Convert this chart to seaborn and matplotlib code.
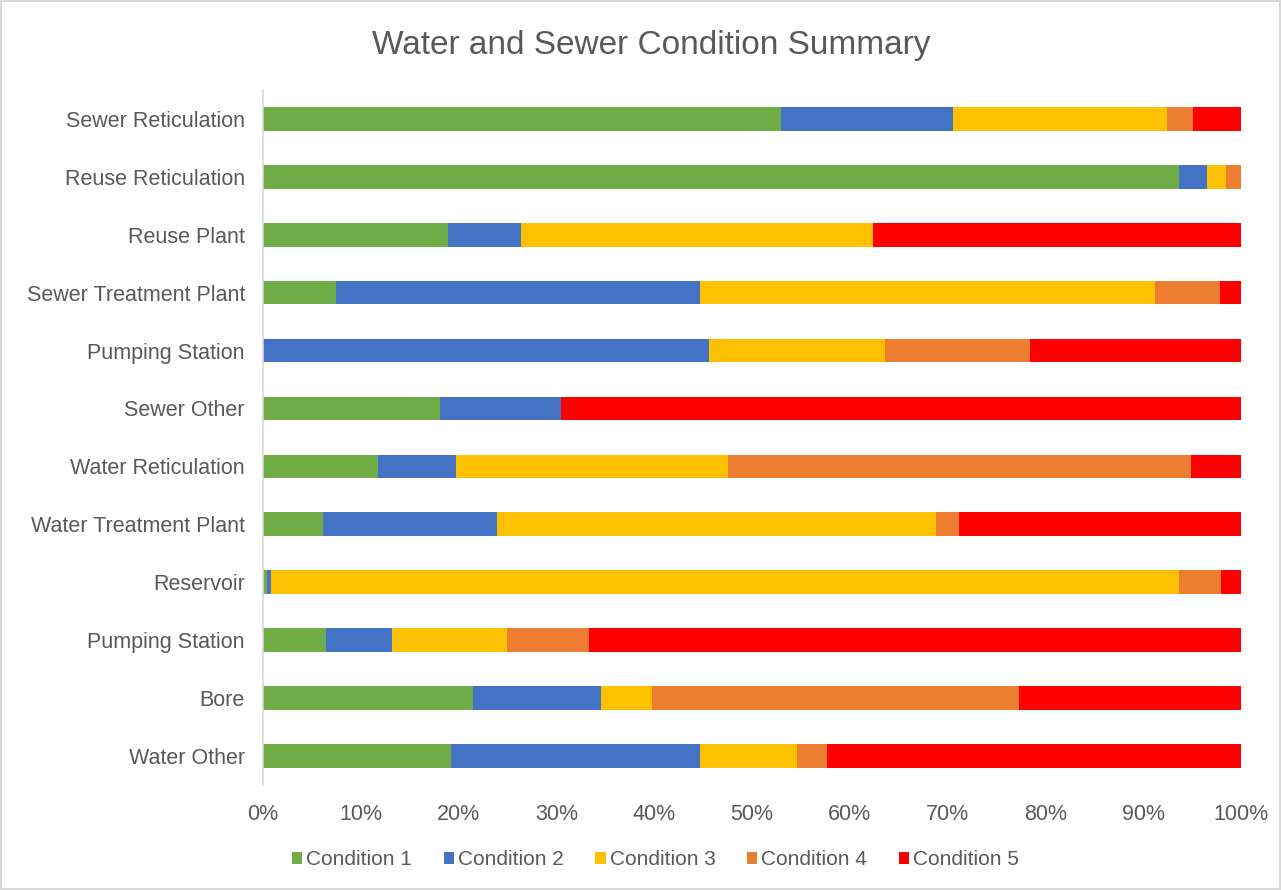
import matplotlib
matplotlib.use("Agg")
import matplotlib.pyplot as plt
import seaborn as sns
import pandas as pd
import numpy as np
from matplotlib.patches import Patch
from matplotlib.ticker import PercentFormatter

# Asset groups, top to bottom
categories = [
    "Sewer Reticulation", "Reuse Reticulation", "Reuse Plant",
    "Sewer Treatment Plant", "Pumping Station", "Sewer Other",
    "Water Reticulation", "Water Treatment Plant", "Reservoir",
    "Pumping Station ", "Bore", "Water Other",
]
tick_labels = [c.strip() for c in categories]

conditions = ["Condition 1", "Condition 2", "Condition 3", "Condition 4", "Condition 5"]

# Share of assets (%) in each condition rating
condition_1 = [53.0, 93.7, 18.9, 7.5, 0.0, 18.1, 11.8, 6.1, 0.4, 6.4, 21.5, 19.2]
condition_2 = [17.5, 2.8, 7.5, 37.2, 45.6, 12.4, 7.9, 17.8, 0.4, 6.8, 13.1, 25.5]
condition_3 = [21.9, 2.0, 36.0, 46.5, 18.0, 0.0, 27.8, 44.9, 92.9, 11.7, 5.2, 9.9]
condition_4 = [2.7, 1.5, 0.0, 6.6, 14.8, 0.0, 47.4, 2.4, 4.3, 8.4, 37.5, 3.1]
condition_5 = [4.9, 0.0, 37.6, 2.2, 21.6, 69.5, 5.1, 28.8, 2.0, 66.7, 22.7, 42.3]

colors = ["#70AD47", "#4472C4", "#FFC000", "#ED7D31", "#FF0000"]

values = np.array([condition_1, condition_2, condition_3, condition_4, condition_5])
shares = values / values.sum(axis=0) * 100
cumulative = np.cumsum(shares, axis=0)

df = pd.DataFrame({"category": categories})
for name, cum in zip(conditions, cumulative):
    df[name] = cum

sns.set_theme(style="white")
plt.rcParams["font.family"] = ["Liberation Sans", "DejaVu Sans"]

fig = plt.figure(figsize=(12.81, 8.9), dpi=100)
fig.patch.set_edgecolor("#D9D9D9")
fig.patch.set_linewidth(1.5)
ax = fig.add_axes([0.2053, 0.118, 0.7635, 0.781])

# Stacked bars: draw cumulative totals from the outermost segment inward
for name, color in reversed(list(zip(conditions, colors))):
    sns.barplot(data=df, x=name, y="category", order=categories, color=color,
                width=0.41, orient="h", ax=ax, saturation=1, linewidth=0)

ax.set_xlim(0, 100)
ax.set_ylim(11.5, -0.5)
ax.set_xticks(np.arange(0, 101, 10))
ax.xaxis.set_major_formatter(PercentFormatter(decimals=0))
ax.set_yticks(range(len(categories)))
ax.set_yticklabels(tick_labels)
ax.set_xlabel("")
ax.set_ylabel("")
ax.tick_params(axis="both", length=0, labelsize=15.5, colors="#595959")
ax.tick_params(axis="x", pad=14)
ax.tick_params(axis="y", pad=13)
for side in ["top", "right", "bottom"]:
    ax.spines[side].set_visible(False)
ax.spines["left"].set_color("#D9D9D9")
ax.spines["left"].set_linewidth(1.2)

fig.text(0.5086, 0.949, "Water and Sewer Condition Summary", ha="center", va="center",
         fontsize=24, color="#595959")

handles = [Patch(facecolor=c, edgecolor="none", label=n) for n, c in zip(conditions, colors)]
fig.legend(handles=handles, loc="center", bbox_to_anchor=(0.5117, 0.034), ncol=5,
           frameon=False, fontsize=15, handlelength=0.5, handleheight=0.5,
           handletextpad=0.2, columnspacing=1.5, labelcolor="#595959")

fig.savefig("out.png", dpi=100)
